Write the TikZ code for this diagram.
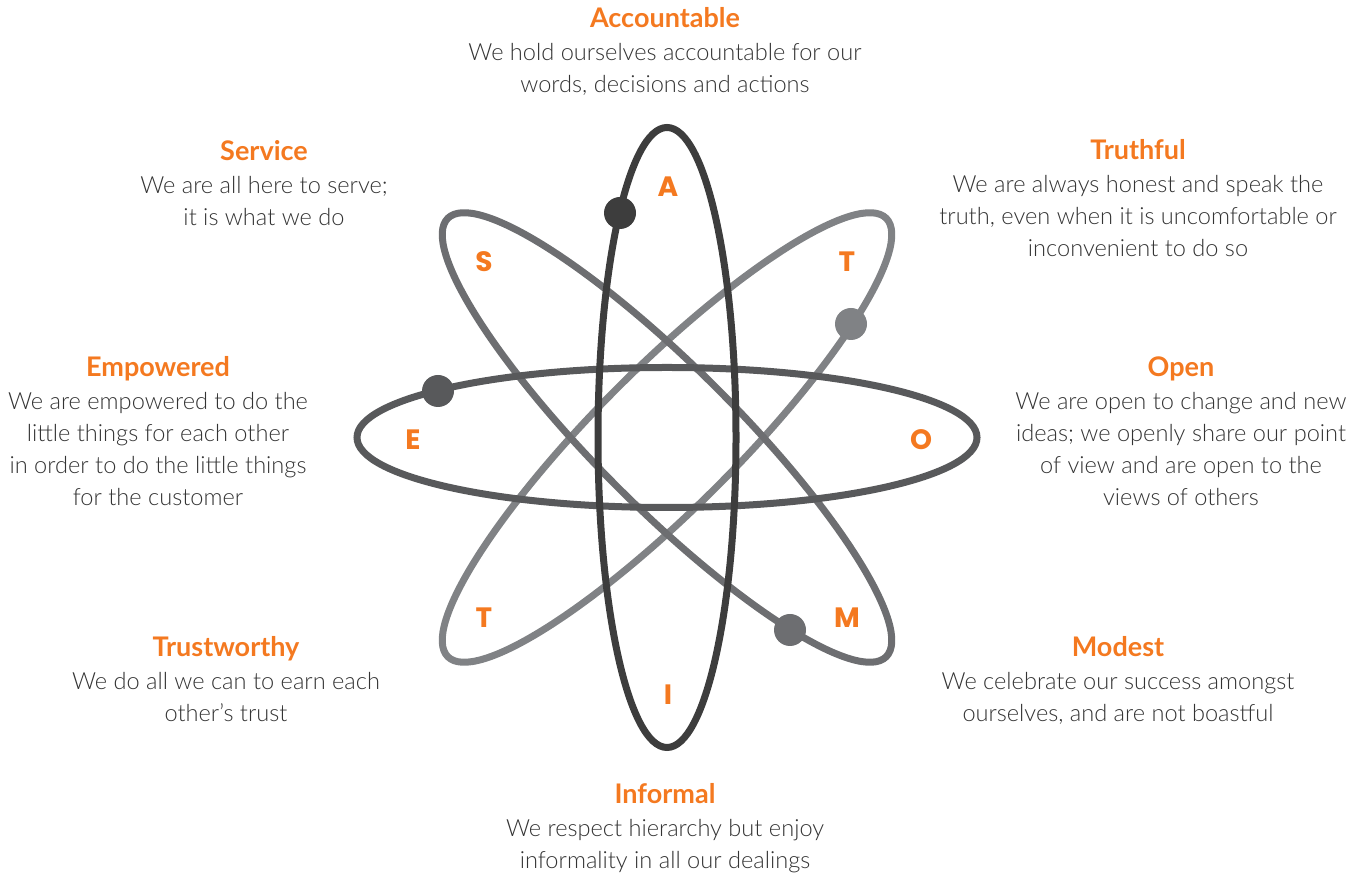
\documentclass[tikz,border=0pt]{standalone}
\usepackage{fontspec}
\setmainfont{Lato}
\IfFontExistsTF{Lato Light}
  {\newfontfamily\bodyfont{Lato Light}}
  {\newfontfamily\bodyfont{Lato}}
\newfontfamily\letterfont{Poppins}
\usetikzlibrary{positioning}

\definecolor{accent}{HTML}{F47920}
\definecolor{bodygray}{HTML}{333333}
\definecolor{orbitA}{HTML}{3D3D3D}
\definecolor{orbitB}{HTML}{58595B}
\definecolor{orbitC}{HTML}{6D6E71}
\definecolor{orbitD}{HTML}{808285}

\begin{document}
\begin{tikzpicture}[x=1pt,y=1pt,
    orbit/.style={line width=7pt},
    electron/.style={circle,inner sep=0pt,minimum size=32pt},
    letter/.style={text=accent,font=\letterfont\bfseries\fontsize{28}{30}\selectfont},
    title/.style={anchor=base,inner sep=0pt,text=accent,font=\bfseries\fontsize{27}{28}\selectfont},
    body/.style={anchor=north,inner sep=0pt,align=center,text=bodygray,font=\bodyfont\fontsize{23.6}{32}\selectfont}]
% ---- centre of the atom (px, y up) ----
\coordinate (O) at (667,436.5);
% ---- orbits: light diagonal, mid diagonal, horizontal, vertical ----
\draw[orbit,orbitD,rotate around={45:(O)}] (O) ellipse [x radius=310pt,y radius=70pt];
\draw[orbit,orbitC,rotate around={-45:(O)}] (O) ellipse [x radius=310pt,y radius=70pt];
\draw[orbit,orbitB] (O) ellipse [x radius=310pt,y radius=70pt];
\draw[orbit,orbitA] (O) ellipse [x radius=69pt,y radius=310pt];
% ---- electrons ----
\node[electron,fill=orbitA] (eA) at (620,661) {};
\node[electron,fill=orbitB] (eE) at (438,483) {};
\node[electron,fill=orbitD] (eT) at (851,550) {};
\node[electron,fill=orbitC] (eM) at (790,244) {};
% ---- letters ----
\node[letter] (lA) at (668,687) {A};
\node[letter] (lS) at (484,612) {S};
\node[letter] (lT) at (847,612) {T};
\node[letter] (lE) at (413,434) {E};
\node[letter] (lO) at (921,434) {O};
\node[letter] (lTt) at (484,256) {T};
\node[letter] (lM) at (847,256) {M};
\node[letter] (lI) at (668,179) {I};
% ---- values ----
\node[title] (accT) at (665,846) {Accountable};
\node[body] (accB) at (665,831) {We hold ourselves accountable for our\\words, decisions and actions};
\node[title] (serT) at (264,713) {Service};
\node[body] (serB) at (264,698) {We are all here to serve;\\it is what we do};
\node[title] (truT) at (1138,714) {Truthful};
\node[body] (truB) at (1138,699) {We are always honest and speak the\\truth, even when it is uncomfortable or\\inconvenient to do so};
\node[title] (empT) at (158,497) {Empowered};
\node[body] (empB) at (158,482) {We are empowered to do the\\little things for each other\\in order to do the little things\\for the customer};
\node[title] (opeT) at (1181,497) {Open};
\node[body] (opeB) at (1181,482) {We are open to change and new\\ideas; we openly share our point\\of view and are open to the\\views of others};
\node[title] (tswT) at (226,217) {Trustworthy};
\node[body] (tswB) at (226,202) {We do all we can to earn each\\other’s trust};
\node[title] (modT) at (1118,217) {Modest};
\node[body] (modB) at (1118,202) {We celebrate our success amongst\\ourselves, and are not boastful};
\node[title] (infT) at (665,70) {Informal};
\node[body] (infB) at (665,55) {We respect hierarchy but enjoy\\informality in all our dealings};
% ---- canvas ----
\pgfresetboundingbox
\path[use as bounding box] (0,0) rectangle (1364,874);
\end{tikzpicture}
\end{document}
